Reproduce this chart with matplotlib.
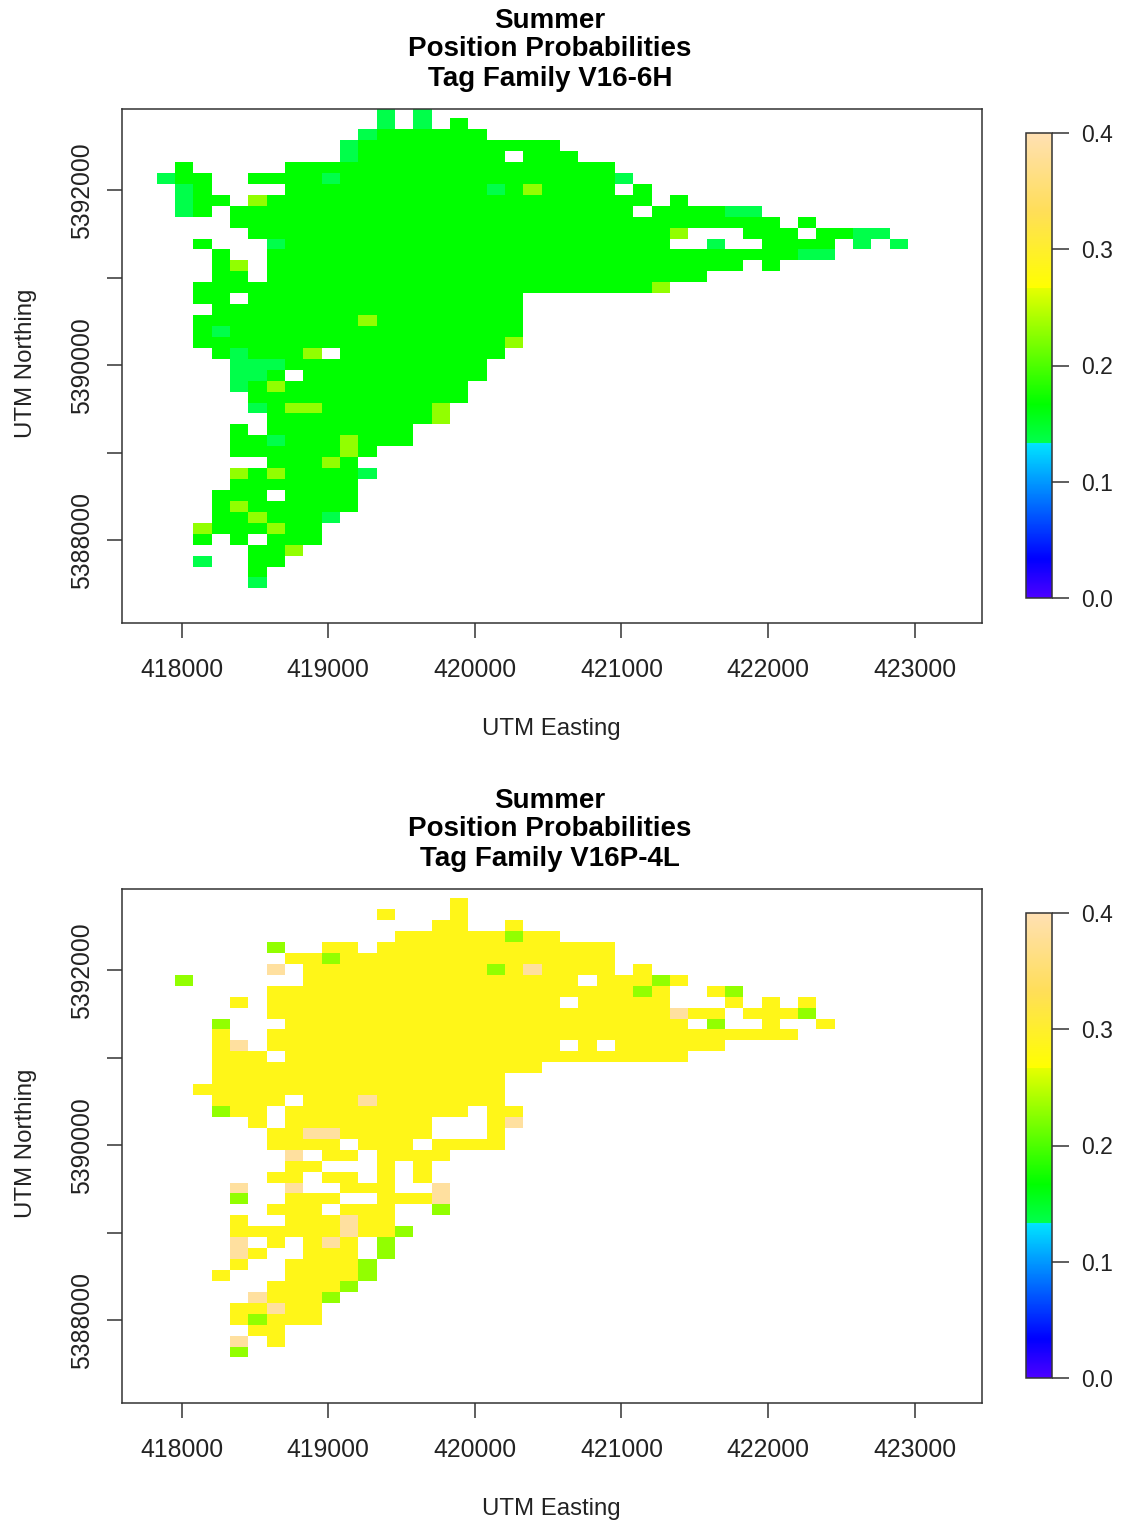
#!/usr/bin/env python3

# Summer position probabilities for two tag families, 125 m grid cells

import numpy as np
import matplotlib
matplotlib.use("Agg")
import matplotlib.pyplot as plt
from matplotlib.cm import ScalarMappable
from matplotlib.colors import LinearSegmentedColormap, Normalize


FIG_W = 1125
FIG_H = 1524
LINE_COLOR = "#333333"
TEXT_COLOR = "#222222"

plt.rcParams["font.family"] = ["Liberation Sans", "DejaVu Sans"]

# Cell grid (west edge of col 0, north edge of row 0, cell size in metres)
GRID_WEST = 417830
GRID_NORTH = 5392950
CELL_SIZE = 125
N_ROWS = 46
N_COLS = 42

X_TICKS = [418000, 419000, 420000, 421000, 422000, 423000]
Y_TICKS = [5388000, 5389000, 5390000, 5391000, 5392000]
Y_TICK_LABELS = ["5388000", "", "5390000", "", "5392000"]
BAR_TICKS = [0.0, 0.1, 0.2, 0.3, 0.4]

# Typical probability for each kind of cell
H_MAIN = 0.167
H_TEAL = 0.135
H_LIME = 0.23
L_MAIN = 0.285
L_LIME = 0.23
L_PEACH = 0.385

# V16-6H: occupied columns per row, north to south
H_ROWS = [
    "12 14", "12 14 16", "11-17", "10-21", "10-18 20-22", "1 7-24",
    "0-2 5-25", "1-2 7-24 26", "1-3 5-26 28", "1-2 4-25 27-32",
    "4-33 35", "5-28 32-34 36-39", "2 6-27 30 33-36 38 40", "3 6-36",
    "3-4 6-31 33", "3-4 6-29", "2-27", "2-3 5-19", "3-19", "2-19",
    "2-19", "2-19", "3-8 10-18", "4-17", "4-6 8-17", "4-16", "5-16",
    "5-15", "6-15", "4 6-13", "4-13", "4-11", "6-10", "4-11", "4-10",
    "3-5 7-10", "3-10", "3-9", "2-8", "2 4 6-8", "5-7", "2 5-6", "5", "5",
]
H_TEAL_CELLS = [
    (0, 12), (1, 12), (0, 14), (1, 14), (2, 11), (3, 10), (4, 10), (6, 0),
    (6, 9), (6, 25), (7, 1), (7, 18), (8, 1), (9, 1), (9, 31), (9, 32),
    (11, 38), (11, 39), (12, 6), (12, 30), (12, 38), (12, 40), (13, 35),
    (13, 36), (20, 3), (22, 4), (23, 4), (23, 5), (23, 6), (24, 4), (24, 5),
    (25, 4), (27, 5), (30, 6), (33, 11), (37, 9), (41, 2), (43, 5),
]
H_LIME_CELLS = [
    (7, 20), (8, 5), (11, 28), (14, 4), (16, 27), (19, 11), (21, 19), (22, 8),
    (25, 6), (27, 7), (27, 8), (27, 15), (28, 15), (30, 10), (31, 10), (32, 9),
    (33, 4), (33, 6), (36, 4), (37, 5), (38, 2), (38, 6), (40, 7),
]

# V16P-4L: occupied columns per row, north to south
L_ROWS = [
    "", "16", "12 16", "15-16 19", "13-21", "6 9-10 12-24", "7-24",
    "6 8-24 26", "1 8-22 24-28", "6-27 30-31",
    "4 6-21 23-27 31 33 35", "6-30 32-35", "3 7-28 30 33 36", "3 6-34",
    "3-4 6-21 23 25-30", "3-5 7-28", "3-20", "3-18", "2-18", "3-6 8-18",
    "3-5 7-16 18-19", "5 7-14 18-19", "6-14 18", "6-9 11-13 15-18",
    "7 9-10 12-15", "7-8 12 14", "6-7 9-10 12 14", "4 7 10-12 15",
    "4 7-9 12-15", "6-8 10-12 15", "4 7-12", "4-13", "4 6 8-10 12",
    "4-5 8-10 12", "4 7-11", "3 7-11", "6-10", "5-9", "4-8", "4-8",
    "5-6", "4 6", "4",
]
L_LIME_CELLS = [
    (4, 19), (5, 6), (6, 9), (7, 18), (8, 1), (8, 27), (9, 26), (9, 31),
    (11, 35), (12, 3), (12, 30), (20, 3), (28, 4), (29, 15), (31, 13),
    (32, 12), (33, 12), (34, 11), (35, 11), (36, 10), (37, 9), (39, 5), (42, 4),
]
L_PEACH_CELLS = [
    (7, 6), (7, 20), (11, 28), (14, 4), (19, 11), (21, 19), (22, 8), (22, 9),
    (24, 7), (27, 4), (27, 7), (27, 15), (28, 15), (30, 10), (31, 10), (32, 4),
    (32, 9), (33, 4), (37, 5), (38, 6), (41, 4),
]

# R's topo.colors, with the hard step between its blue and green parts
TOPO = LinearSegmentedColormap.from_list("topo", [
    (0.0, "#4C00FF"), (1 / 12, "#0000FF"), (1 / 3, "#00E5FF"),
    (1 / 3, "#00FF4D"), (5 / 12, "#00FF00"), (2 / 3, "#E6FF00"),
    (2 / 3, "#FFFF00"), (5 / 6, "#FFDE59"), (1.0, "#FFE0B3"),
], N=512)
NORM = Normalize(0.0, 0.4)


def build_grid(rows, base, overrides):
    grid = np.full((N_ROWS, N_COLS), np.nan)
    for r, spec in enumerate(rows):
        for part in spec.split():
            first, _, last = part.partition("-")
            grid[r, int(first):int(last or first) + 1] = base
    for cells, value in overrides:
        for r, c in cells:
            grid[r, c] = value
    return grid


def px_axes(fig, left, top, right, bottom):
    return fig.add_axes([left / FIG_W, 1 - bottom / FIG_H,
                         (right - left) / FIG_W, (bottom - top) / FIG_H])


def px_text(fig, x, y, s, **kwargs):
    kwargs.setdefault("color", TEXT_COLOR)
    fig.text(x / FIG_W, 1 - y / FIG_H, s, ha="center", va="center", **kwargs)


def draw_panel(fig, grid, family, offset):
    ax = px_axes(fig, 122, 109 + offset, 982, 623 + offset)
    x_edges = GRID_WEST + CELL_SIZE * np.arange(N_COLS + 1)
    y_edges = GRID_NORTH - CELL_SIZE * np.arange(N_ROWS + 1)
    ax.pcolormesh(x_edges, y_edges, np.ma.masked_invalid(grid), cmap=TOPO,
                  norm=NORM, antialiased=False, linewidth=0)
    ax.set_xlim(417593, 423459)
    ax.set_ylim(5387054, 5392931)

    ax.set_xticks(X_TICKS)
    ax.set_xticklabels([str(t) for t in X_TICKS])
    ax.set_yticks(Y_TICKS)
    ax.set_yticklabels(Y_TICK_LABELS, rotation=90, va="center")
    ax.tick_params(axis="x", length=11, width=1.1, color=LINE_COLOR, pad=14,
                   labelsize=17.8, labelcolor=TEXT_COLOR)
    ax.tick_params(axis="y", length=11, width=1.1, color=LINE_COLOR, pad=9,
                   labelsize=17.8, labelcolor=TEXT_COLOR)
    for spine in ax.spines.values():
        spine.set_linewidth(1.1)
        spine.set_color(LINE_COLOR)

    cax = px_axes(fig, 1026, 133 + offset, 1052, 598 + offset)
    bar = fig.colorbar(ScalarMappable(norm=NORM, cmap=TOPO), cax=cax)
    bar.set_ticks(BAR_TICKS)
    bar.set_ticklabels([f"{t:.1f}" for t in BAR_TICKS])
    bar.ax.tick_params(length=12, width=1.1, color=LINE_COLOR, pad=9,
                       labelsize=16.5, labelcolor=TEXT_COLOR)
    bar.outline.set_linewidth(1.1)
    bar.outline.set_edgecolor(LINE_COLOR)

    px_text(fig, 550, 21 + offset, "Summer", fontsize=20, fontweight="bold",
            color="black")
    px_text(fig, 550, 49 + offset, "Position Probabilities", fontsize=20,
            fontweight="bold", color="black")
    px_text(fig, 550, 79 + offset, f"Tag Family {family}", fontsize=20,
            fontweight="bold", color="black")
    px_text(fig, 551, 729 + offset, "UTM Easting", fontsize=17.3)
    px_text(fig, 26, 363 + offset, "UTM Northing", fontsize=17.3, rotation=90)


def main():
    h_grid = build_grid(H_ROWS, H_MAIN,
                        [(H_TEAL_CELLS, H_TEAL), (H_LIME_CELLS, H_LIME)])
    l_grid = build_grid(L_ROWS, L_MAIN,
                        [(L_LIME_CELLS, L_LIME), (L_PEACH_CELLS, L_PEACH)])

    fig = plt.figure(figsize=(FIG_W / 100, FIG_H / 100), dpi=100)
    draw_panel(fig, h_grid, "V16-6H", 0)
    draw_panel(fig, l_grid, "V16P-4L", 780)
    fig.savefig("out.png", dpi=100)


if __name__ == "__main__":
    main()
